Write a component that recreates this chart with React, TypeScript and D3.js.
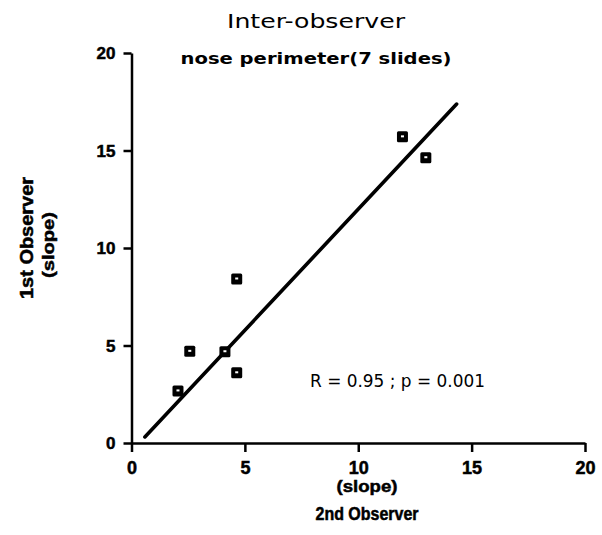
import * as d3 from 'd3';
import React, { useRef, useEffect } from 'react';

// values
const xObs = [2.05, 2.57, 4.12, 4.64, 4.64, 11.95, 12.98];
const yObs = [2.67, 4.70, 4.68, 3.60, 8.41, 15.70, 14.63];
const fitX = [0.59, 14.34];
const fitY = [0.31, 17.38];
const tickValues = [0, 5, 10, 15, 20];

const width = 602;
const height = 535;

function App() {
  const ref = useRef<SVGSVGElement>(null);

  useEffect(() => {
    draw();
  }, []);

  const draw = () => {
    const svg = d3.select(ref.current);
    svg.selectAll('*').remove();

    const xScale = d3.scaleLinear().domain([0, 20]).range([131.5, 585]);
    const yScale = d3.scaleLinear().domain([0, 20]).range([443, 53]);

    const boldFont = "'Liberation Sans', Arial, sans-serif";
    const lightFont = "'DejaVu Sans', sans-serif";

    // x axis
    const gx = svg.append('g')
      .attr('transform', `translate(0, ${yScale(0)})`)
      .call(d3.axisBottom(xScale).tickValues(tickValues).tickSize(9).tickSizeOuter(0).tickPadding(5));
    // y axis
    const gy = svg.append('g')
      .attr('transform', `translate(${xScale(0)}, 0)`)
      .call(d3.axisLeft(yScale).tickValues(tickValues).tickSize(8).tickSizeOuter(0).tickPadding(8));

    [gx, gy].forEach(g => {
      g.select('.domain').attr('stroke', '#000').attr('stroke-width', 2.5);
      g.selectAll('.tick line').attr('stroke', '#000').attr('stroke-width', 2.5);
      g.selectAll('.tick text')
        .attr('fill', '#000')
        .attr('stroke', '#000')
        .attr('stroke-width', 0.5)
        .style('font-family', boldFont)
        .style('font-weight', 'bold');
    });
    gy.selectAll('.tick text').attr('dy', '0.35em').style('font-size', '17px');
    gx.selectAll('.tick text').attr('dy', '0.92em').style('font-size', '18px');

    // regression line
    const line = d3.line<number>()
      .x((d, i) => xScale(fitX[i]))
      .y((d, i) => yScale(fitY[i]));
    svg.append('path')
      .datum(fitY)
      .attr('d', line)
      .attr('fill', 'none')
      .attr('stroke', '#000')
      .attr('stroke-width', 3.6)
      .attr('stroke-linecap', 'round');

    // markers
    const pts = svg.selectAll('g.pt')
      .data(xObs.map((x, i) => ({ x, y: yObs[i] })))
      .enter()
      .append('g')
      .attr('class', 'pt')
      .attr('transform', d => `translate(${xScale(d.x)}, ${yScale(d.y)})`);
    pts.append('rect')
      .attr('x', -5.5).attr('y', -5.5).attr('width', 11).attr('height', 11)
      .attr('rx', 1.5)
      .attr('fill', '#000');
    pts.append('rect')
      .attr('x', -1.5).attr('y', -1.5).attr('width', 3).attr('height', 2)
      .attr('fill', '#fff');

    // titles
    svg.append('text')
      .attr('x', 316).attr('y', 28)
      .attr('text-anchor', 'middle')
      .attr('textLength', 178).attr('lengthAdjust', 'spacingAndGlyphs')
      .style('font-family', lightFont)
      .style('font-size', '20px')
      .text('Inter-observer');
    svg.append('text')
      .attr('x', 316).attr('y', 64)
      .attr('text-anchor', 'middle')
      .attr('textLength', 271).attr('lengthAdjust', 'spacingAndGlyphs')
      .style('font-family', lightFont)
      .style('font-weight', 'bold')
      .style('font-size', '16px')
      .text('nose perimeter(7 slides)');

    svg.append('text')
      .attr('x', 310).attr('y', 387)
      .attr('textLength', 175).attr('lengthAdjust', 'spacingAndGlyphs')
      .style('font-family', lightFont)
      .style('font-size', '18px')
      .text('R = 0.95 ; p = 0.001');

    // axis labels
    const bold = (sel: any) => sel
      .attr('stroke', '#000').attr('stroke-width', 0.5)
      .style('font-family', boldFont).style('font-weight', 'bold');

    svg.append('text')
      .attr('x', 367).attr('y', 492)
      .attr('text-anchor', 'middle')
      .attr('textLength', 61).attr('lengthAdjust', 'spacingAndGlyphs')
      .call(bold).style('font-size', '17px')
      .text('(slope)');
    svg.append('text')
      .attr('x', 367).attr('y', 520)
      .attr('text-anchor', 'middle')
      .attr('textLength', 103).attr('lengthAdjust', 'spacingAndGlyphs')
      .call(bold).style('font-size', '18px')
      .text('2nd Observer');

    svg.append('text')
      .attr('transform', 'translate(33, 238) rotate(-90)')
      .attr('text-anchor', 'middle')
      .attr('textLength', 122).attr('lengthAdjust', 'spacingAndGlyphs')
      .call(bold).style('font-size', '18px')
      .text('1st Observer');
    svg.append('text')
      .attr('transform', 'translate(54, 245) rotate(-90)')
      .attr('text-anchor', 'middle')
      .attr('textLength', 66).attr('lengthAdjust', 'spacingAndGlyphs')
      .call(bold).style('font-size', '17px')
      .text('(slope)');
  };

  return (
    <svg ref={ref} width={width} height={height}
      style={{ position: 'absolute', left: 0, top: 0, background: '#fff' }}>
    </svg>
  );
}

export default App;
